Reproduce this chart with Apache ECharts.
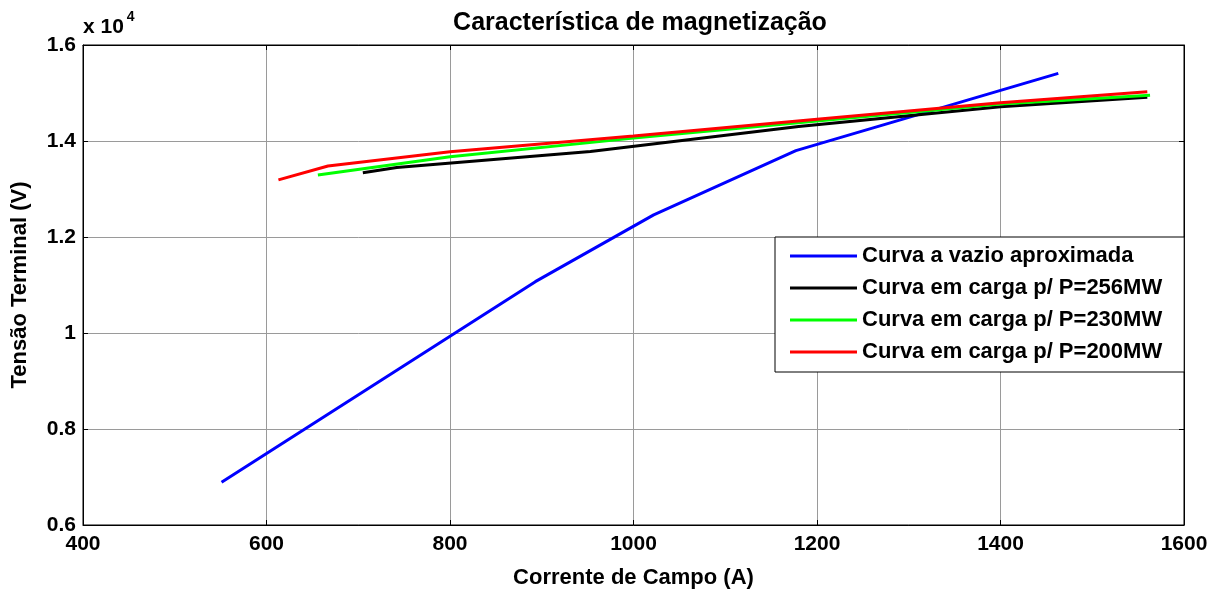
<!DOCTYPE html>
<html>
<head>
<meta charset="utf-8">
<script src="https://cdn.jsdelivr.net/npm/echarts@6/dist/echarts.min.js"></script>
<style>
  html, body { margin: 0; padding: 0; background: #fff; }
  #chart { width: 1220px; height: 589px; }
</style>
</head>
<body>
<div id="chart"></div>
<script>
// curves: [field current (A), terminal voltage (V)]
const curvaVazio = [[551, 6890], [893, 11070], [1022, 12460], [1177, 13800], [1463, 15410]];
const carga256 = [[705, 13340], [742, 13450], [953, 13780], [1180, 14300], [1400, 14715], [1560, 14910]];
const carga230 = [[656, 13290], [800, 13670], [1000, 14060], [1200, 14417], [1400, 14771], [1563, 14952]];
const carga200 = [[613, 13190], [667, 13480], [800, 13777], [1000, 14104], [1200, 14452], [1400, 14798], [1560, 15028]];

const seriesNames = [
    'Curva a vazio aproximada',
    'Curva em carga p/ P=256MW',
    'Curva em carga p/ P=230MW',
    'Curva em carga p/ P=200MW'
];
const seriesColors = ['#0000ff', '#000000', '#00ff00', '#ff0000'];
const seriesData = [curvaVazio, carga256, carga230, carga200];

const font = 'Arial, "Liberation Sans", sans-serif';
const tickStyle = { color: '#000', fontWeight: 'bold', fontSize: 21, fontFamily: font };
const nameStyle = { color: '#000', fontWeight: 'bold', fontSize: 22, fontFamily: font };

const chart = echarts.init(document.getElementById('chart'));

const option = {
    animation: false,
    backgroundColor: '#fff',
    title: {
        text: 'Característica de magnetização',
        left: 635,
        textAlign: 'center',
        top: 6,
        textStyle: { color: '#000', fontWeight: 'bold', fontSize: 25, fontFamily: font }
    },
    grid: {
        left: 83, right: 36, top: 45, bottom: 64,
        outerBoundsMode: 'none',
        show: true, borderColor: '#000', borderWidth: 1, backgroundColor: '#fff'
    },
    legend: {
        orient: 'vertical',
        left: 775,
        top: 237,
        itemWidth: 67,
        itemHeight: 3,
        itemGap: 10,
        padding: [8, 22, 9, 15],
        borderColor: '#000',
        borderWidth: 1,
        backgroundColor: '#fff',
        icon: 'rect',
        textStyle: Object.assign({ lineHeight: 22 }, nameStyle),
        data: seriesNames
    },
    xAxis: [{
        type: 'value',
        min: 400, max: 1600, interval: 200,
        name: 'Corrente de Campo (A)',
        nameLocation: 'middle',
        nameGap: 42,
        nameTextStyle: nameStyle,
        axisLine: { show: true, lineStyle: { color: '#000', width: 1 } },
        axisTick: { show: true, inside: true, length: 5, lineStyle: { color: '#000' } },
        axisLabel: Object.assign({ margin: 9, formatter: v => String(v) }, tickStyle),
        splitLine: { show: true, lineStyle: { color: '#9a9a9a', width: 1 } }
    }, {
        type: 'value',
        position: 'top',
        min: 400, max: 1600, interval: 200,
        axisLine: { show: true, lineStyle: { color: '#000' } },
        axisTick: { show: true, inside: true, length: 5, lineStyle: { color: '#000' } },
        axisLabel: { show: false },
        splitLine: { show: false }
    }],
    yAxis: [{
        type: 'value',
        min: 6000, max: 16000, interval: 2000,
        name: 'Tensão Terminal (V)',
        nameLocation: 'middle',
        nameGap: 52,
        nameTextStyle: nameStyle,
        axisLine: { show: true, lineStyle: { color: '#000', width: 1 } },
        axisTick: { show: true, inside: true, length: 5, lineStyle: { color: '#000' } },
        axisLabel: Object.assign({ margin: 7, formatter: v => String(v / 10000) }, tickStyle),
        splitLine: { show: true, lineStyle: { color: '#9a9a9a', width: 1 } }
    }, {
        type: 'value',
        position: 'right',
        min: 6000, max: 16000, interval: 2000,
        axisLine: { show: true, lineStyle: { color: '#000' } },
        axisTick: { show: true, inside: true, length: 5, lineStyle: { color: '#000' } },
        axisLabel: { show: false },
        splitLine: { show: false }
    }],
    graphic: [{
        type: 'text',
        left: 83,
        top: 10,
        style: {
            text: '{b|x 10}{s|4}',
            rich: {
                b: { fontSize: 21, fontWeight: 'bold', fontFamily: font, fill: '#000', verticalAlign: 'bottom', lineHeight: 28 },
                s: { fontSize: 14, fontWeight: 'bold', fontFamily: font, fill: '#000', verticalAlign: 'top', padding: [0, 0, 14, 3] }
            }
        }
    }],
    series: seriesNames.map((name, i) => ({
        name: name,
        type: 'line',
        data: seriesData[i],
        symbol: 'none',
        color: seriesColors[i],
        lineStyle: { color: seriesColors[i], width: 3 }
    }))
};

chart.setOption(option);
</script>
</body>
</html>
